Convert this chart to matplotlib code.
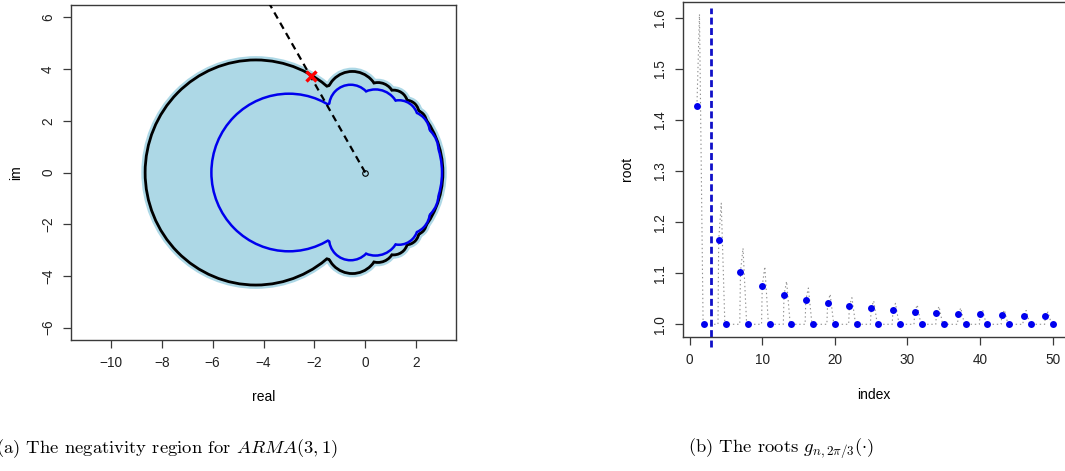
import numpy as np
import matplotlib
matplotlib.use("Agg")
import matplotlib.pyplot as plt
from matplotlib.patches import Circle

plt.rcParams['font.family'] = ['Liberation Sans', 'DejaVu Sans']
plt.rcParams['mathtext.fontset'] = 'cm'
plt.rcParams['lines.scale_dashes'] = False

# ---------------- panel (a): negativity region ----------------
# disks centred on the real axis: centre, radius
outer_disk_x = [-4.3, -0.45]
outer_disk_r = [4.3, 3.45]
# boundary lobes in polar form: direction (deg), outer reach, lobe radius
outer_lobe_deg = [100, 80, 67, 55, 45]
outer_lobe_reach = [3.9, 3.47, 3.36, 3.25, 3.16]
outer_lobe_r = [0.98, 0.6, 0.5, 0.45, 0.4]

inner_disk_x = [-3.0, 0.0]
inner_disk_r = [3.0, 2.97]
inner_lobe_deg = [102.7, 80, 57, 42, 25]
inner_lobe_reach = [3.41, 3.2, 3.14, 3.08, 3.02]
inner_lobe_r = [0.8, 0.9, 0.7, 0.8, 1.0]

ray_angle = 2 * np.pi / 3
crossing_radius = 4.3

# ---------------- panel (b): roots g_{n, 2pi/3} ----------------
peak_index = list(range(1, 50, 3))
peak_root = [1.428, 1.165, 1.103, 1.075, 1.058, 1.048, 1.041, 1.036, 1.031,
             1.028, 1.025, 1.023, 1.021, 1.020, 1.018, 1.017, 1.016]
peak_crest = [1.607, 1.237, 1.149, 1.113, 1.084, 1.071, 1.059, 1.052, 1.046,
              1.041, 1.038, 1.035, 1.032, 1.029, 1.028, 1.027, 1.024]
unit_index = list(range(2, 51, 3))
unit_root = [1.0] * len(unit_index)
cutoff_index = 3

LIGHT = '#add8e6'
AX_COL = '#3a3a3a'

fig = plt.figure(figsize=(10.65, 4.71), dpi=100)


def disk_list(axis_x, axis_r, lobe_deg, lobe_reach, lobe_r):
    disks = [(x, 0.0, r) for x, r in zip(axis_x, axis_r)]
    for d, reach, rho in zip(lobe_deg, lobe_reach, lobe_r):
        t = np.deg2rad(d)
        c = reach - rho
        disks.append((c * np.cos(t), c * np.sin(t), rho))
        disks.append((c * np.cos(t), -c * np.sin(t), rho))
    return disks


def style_axes(ax):
    for s in ax.spines.values():
        s.set_color(AX_COL)
        s.set_linewidth(1.0)
    ax.tick_params(axis='both', direction='out', length=5.5, width=0.9,
                   color=AX_COL, labelsize=9.8, pad=6, labelcolor='#222222')
    ax.tick_params(axis='y', labelrotation=90)
    for lab in ax.get_yticklabels():
        lab.set_va('center')


# ---- (a)
ax1 = fig.add_axes([71 / 1065, (471 - 340) / 471, 385 / 1065, 335 / 471])
outer = disk_list(outer_disk_x, outer_disk_r, outer_lobe_deg,
                  outer_lobe_reach, outer_lobe_r)
inner = disk_list(inner_disk_x, inner_disk_r, inner_lobe_deg,
                  inner_lobe_reach, inner_lobe_r)

for cx, cy, r in outer:   # soft fringe around the region
    ax1.add_patch(Circle((cx, cy), r, facecolor=LIGHT, edgecolor=LIGHT,
                         lw=7.5, zorder=1))
for cx, cy, r in outer:   # outer boundary
    ax1.add_patch(Circle((cx, cy), r, facecolor='none', edgecolor='black',
                         lw=4.0, zorder=2))
for cx, cy, r in outer:   # region fill
    ax1.add_patch(Circle((cx, cy), r, facecolor=LIGHT, edgecolor='none',
                         zorder=3))
for cx, cy, r in inner:   # inner boundary
    ax1.add_patch(Circle((cx, cy), r, facecolor='none', edgecolor='#0000ee',
                         lw=3.6, zorder=4))
for cx, cy, r in inner:
    ax1.add_patch(Circle((cx, cy), r, facecolor=LIGHT, edgecolor='none',
                         zorder=5))

ray_r = np.array([0.0, 9.0])
ax1.plot(ray_r * np.cos(ray_angle), ray_r * np.sin(ray_angle), color='black',
         lw=1.6, linestyle=(0, (5, 3.5)), zorder=6)
ax1.plot([0], [0], marker='o', ms=4, mfc='none', mec='black', mew=0.8,
         zorder=7)
ax1.plot([crossing_radius * np.cos(ray_angle)],
         [crossing_radius * np.sin(ray_angle)], marker='x', ms=7, mew=2.4,
         color='#ff0000', zorder=8)

ax1.set_xlim(-11.57, 3.57)
ax1.set_ylim(-6.48, 6.48)
ax1.set_xticks(range(-10, 3, 2))
ax1.set_yticks(range(-6, 7, 2))
style_axes(ax1)
ax1.set_xlabel('real', fontsize=10)
ax1.xaxis.set_label_coords(0.5, -0.17)
ax1.xaxis.label.set_va('center')
ax1.set_ylabel('im', fontsize=10)
ax1.yaxis.set_label_coords(-0.143, 0.5)
ax1.yaxis.label.set_va('center')

# ---- (b)
ax2 = fig.add_axes([682.7 / 1065, (471 - 336.7) / 471,
                    (1065.5 - 682.7) / 1065, 334.7 / 471])

# dotted trace of the root curve
cx_, cy_ = [], []
for k, (n, v, top) in enumerate(zip(peak_index, peak_root, peak_crest)):
    if k > 0:
        cx_.append(n - 0.1)
        cy_.append(1.0)
    cx_ += [n, n + 0.35, n + 0.85]
    cy_ += [v, top, 1.0]
cx_.append(unit_index[-1])
cy_.append(unit_root[-1])
ax2.plot(cx_, cy_, color='#909090', lw=0.8, linestyle=(0, (1, 2)), zorder=1)

ax2.axvline(cutoff_index, ymin=-0.03, ymax=0.981, color='#1010c8', lw=2.0,
            linestyle=(0, (5, 2.5)), clip_on=False, zorder=2)
ax2.plot(peak_index, peak_root, 'o', color='#0000ee', ms=5, mew=0, zorder=3)
ax2.plot(unit_index, unit_root, 'o', color='#0000ee', ms=5, mew=0, zorder=3)

ax2.set_xlim(-0.96, 51.77)
ax2.set_ylim(0.9757, 1.631)
ax2.set_xticks(range(0, 51, 10))
ax2.set_yticks([1.0, 1.1, 1.2, 1.3, 1.4, 1.5, 1.6])
ax2.set_yticklabels(['1.0', '1.1', '1.2', '1.3', '1.4', '1.5', '1.6'])
style_axes(ax2)
ax2.set_xlabel('index', fontsize=10)
ax2.xaxis.set_label_coords(0.5, -0.174)
ax2.xaxis.label.set_va('center')
ax2.set_ylabel('root', fontsize=10)
ax2.yaxis.set_label_coords(-0.145, 0.5)
ax2.yaxis.label.set_va('center')

# captions
fig.text(-0.004, 0.048, r'(a) The negativity region for $ARMA(3,1)$',
         fontsize=13.4, family='cmr10', ha='left', va='center')
fig.text(688 / 1065, 0.048, r'(b) The roots $g_{n,2\pi/3}(\cdot)$',
         fontsize=13.4, family='cmr10', ha='left', va='center')

fig.savefig('out.png', dpi=100)
